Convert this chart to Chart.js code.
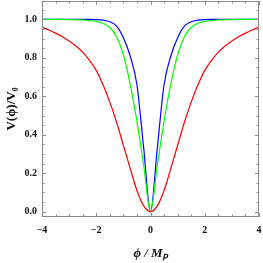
<!DOCTYPE html>
<html lang="en">
<head>
  <meta charset="UTF-8">
  <title>Potential V(phi)/V0</title>
  <script src="https://cdn.jsdelivr.net/npm/chart.js"></script>
  <style>
    body {
      margin: 0;
      background: white;
    }
    #myChart {
      display: block;
    }
  </style>
</head>
<body>
  <canvas id="myChart" width="263" height="263"></canvas>

  <script>
    // values
    const phiValues   = [-4, -3.75, -3.5, -3.25, -3, -2.75, -2.5, -2.25, -2, -1.75, -1.5, -1.25, -1, -0.75, -0.5, -0.25, 0,
                          0.25, 0.5, 0.75, 1, 1.25, 1.5, 1.75, 2, 2.25, 2.5, 2.75, 3, 3.25, 3.5, 3.75, 4];
    const redValues   = [0.96, 0.945, 0.929, 0.91, 0.888, 0.862, 0.83, 0.787, 0.735, 0.66, 0.57, 0.465, 0.345, 0.225, 0.11, 0.03, 0,
                          0.03, 0.11, 0.225, 0.345, 0.465, 0.57, 0.66, 0.735, 0.787, 0.83, 0.862, 0.888, 0.91, 0.929, 0.945, 0.96];
    const greenValues = [1, 1, 1, 1, 0.999, 0.998, 0.997, 0.994, 0.99, 0.98, 0.958, 0.91, 0.815, 0.665, 0.47, 0.24, 0,
                          0.24, 0.47, 0.665, 0.815, 0.91, 0.958, 0.98, 0.99, 0.994, 0.997, 0.998, 0.999, 1, 1, 1, 1];
    const blueValues  = [1, 1, 1, 1, 1, 1, 1, 1, 0.999, 0.996, 0.988, 0.965, 0.905, 0.81, 0.66, 0.33, 0,
                          0.33, 0.66, 0.81, 0.905, 0.965, 0.988, 0.996, 0.999, 1, 1, 1, 1, 1, 1, 1, 1];

    const xTicks = [-4, -2, 0, 2, 4];
    const yTicks = [0, 0.2, 0.4, 0.6, 0.8, 1.0];
    const xMinorTicks = [-3.5, -3, -2.5, -1.5, -1, -0.5, 0.5, 1, 1.5, 2.5, 3, 3.5];
    const yMinorTicks = [0.05, 0.1, 0.15, 0.25, 0.3, 0.35, 0.45, 0.5, 0.55, 0.65, 0.7, 0.75, 0.85, 0.9, 0.95, 1.05];

    const labelFont = { family: '"Liberation Serif", "DejaVu Serif", serif', size: 10, weight: 'bold' };

    function toPoints(ys) {
      return phiValues.map((x, i) => ({ x: x, y: ys[i] }));
    }

    // Mathematica-like frame with inward ticks on all four sides
    const frameTicks = {
      id: 'frameTicks',
      afterDatasetsDraw(chart) {
        const ctx = chart.ctx;
        const a = chart.chartArea;
        const xs = chart.scales.x;
        const ys = chart.scales.y;
        ctx.save();
        ctx.strokeStyle = '#8a8a8a';
        ctx.lineWidth = 1;
        ctx.strokeRect(a.left + 0.5, a.top + 0.5, a.right - a.left - 1, a.bottom - a.top - 1);
        ctx.beginPath();
        const xt = (list, len) => list.forEach(v => {
          const px = Math.round(xs.getPixelForValue(v)) + 0.5;
          ctx.moveTo(px, a.bottom); ctx.lineTo(px, a.bottom - len);
          ctx.moveTo(px, a.top); ctx.lineTo(px, a.top + len);
        });
        const yt = (list, len) => list.forEach(v => {
          const py = Math.round(ys.getPixelForValue(v)) + 0.5;
          ctx.moveTo(a.left, py); ctx.lineTo(a.left + len, py);
          ctx.moveTo(a.right, py); ctx.lineTo(a.right - len, py);
        });
        xt(xTicks, 4); xt(xMinorTicks, 2.5);
        yt(yTicks, 4); yt(yMinorTicks, 2.5);
        ctx.stroke();
        ctx.restore();
      }
    };

    new Chart(document.getElementById('myChart'), {
      type: 'line',
      data: {
        datasets: [
          { data: toPoints(redValues),   borderColor: '#ff0000' },
          { data: toPoints(greenValues), borderColor: '#00ff00' },
          { data: toPoints(blueValues),  borderColor: '#0000ff' }
        ]
      },
      options: {
        responsive: false,
        animation: false,
        devicePixelRatio: 1,
        layout: { padding: { top: 1, right: 4, left: 0, bottom: 0 } },
        elements: {
          point: { radius: 0 },
          line: { borderWidth: 1.2, cubicInterpolationMode: 'monotone', fill: false }
        },
        plugins: {
          legend: { display: false },
          tooltip: { enabled: false }
        },
        scales: {
          x: {
            type: 'linear',
            min: -4,
            max: 4,
            afterBuildTicks: s => { s.ticks = xTicks.map(v => ({ value: v })); },
            afterFit: s => { s.height = 46; s.paddingLeft = 0; s.paddingRight = 0; },
            grid: { display: false, drawTicks: false },
            border: { display: false },
            ticks: {
              font: labelFont,
              color: '#111',
              padding: 7,
              maxRotation: 0,
              autoSkip: false,
              callback: v => (v < 0 ? '\u2212' + Math.abs(v) : '' + v)
            },
            title: {
              display: true,
              text: '\u03D5 / M\u209A',
              color: '#111',
              font: { family: '"Liberation Serif", serif', size: 13, weight: 'bold', style: 'italic' },
              padding: { top: 0, bottom: 2 }
            }
          },
          y: {
            type: 'linear',
            min: -0.028,
            max: 1.096,
            afterBuildTicks: s => { s.ticks = yTicks.map(v => ({ value: v })); },
            afterFit: s => { s.width = 42; s.paddingTop = 0; s.paddingBottom = 0; },
            grid: { display: false, drawTicks: false },
            border: { display: false },
            ticks: {
              font: labelFont,
              color: '#111',
              padding: 5,
              autoSkip: false,
              callback: v => v.toFixed(1)
            },
            title: {
              display: true,
              text: 'V(\u03D5)/V\u2080',
              color: '#111',
              font: { family: '"Liberation Serif", serif', size: 13, weight: 'bold' },
              padding: { top: 4, bottom: 0 }
            }
          }
        }
      },
      plugins: [frameTicks]
    });
  </script>
</body>
</html>
